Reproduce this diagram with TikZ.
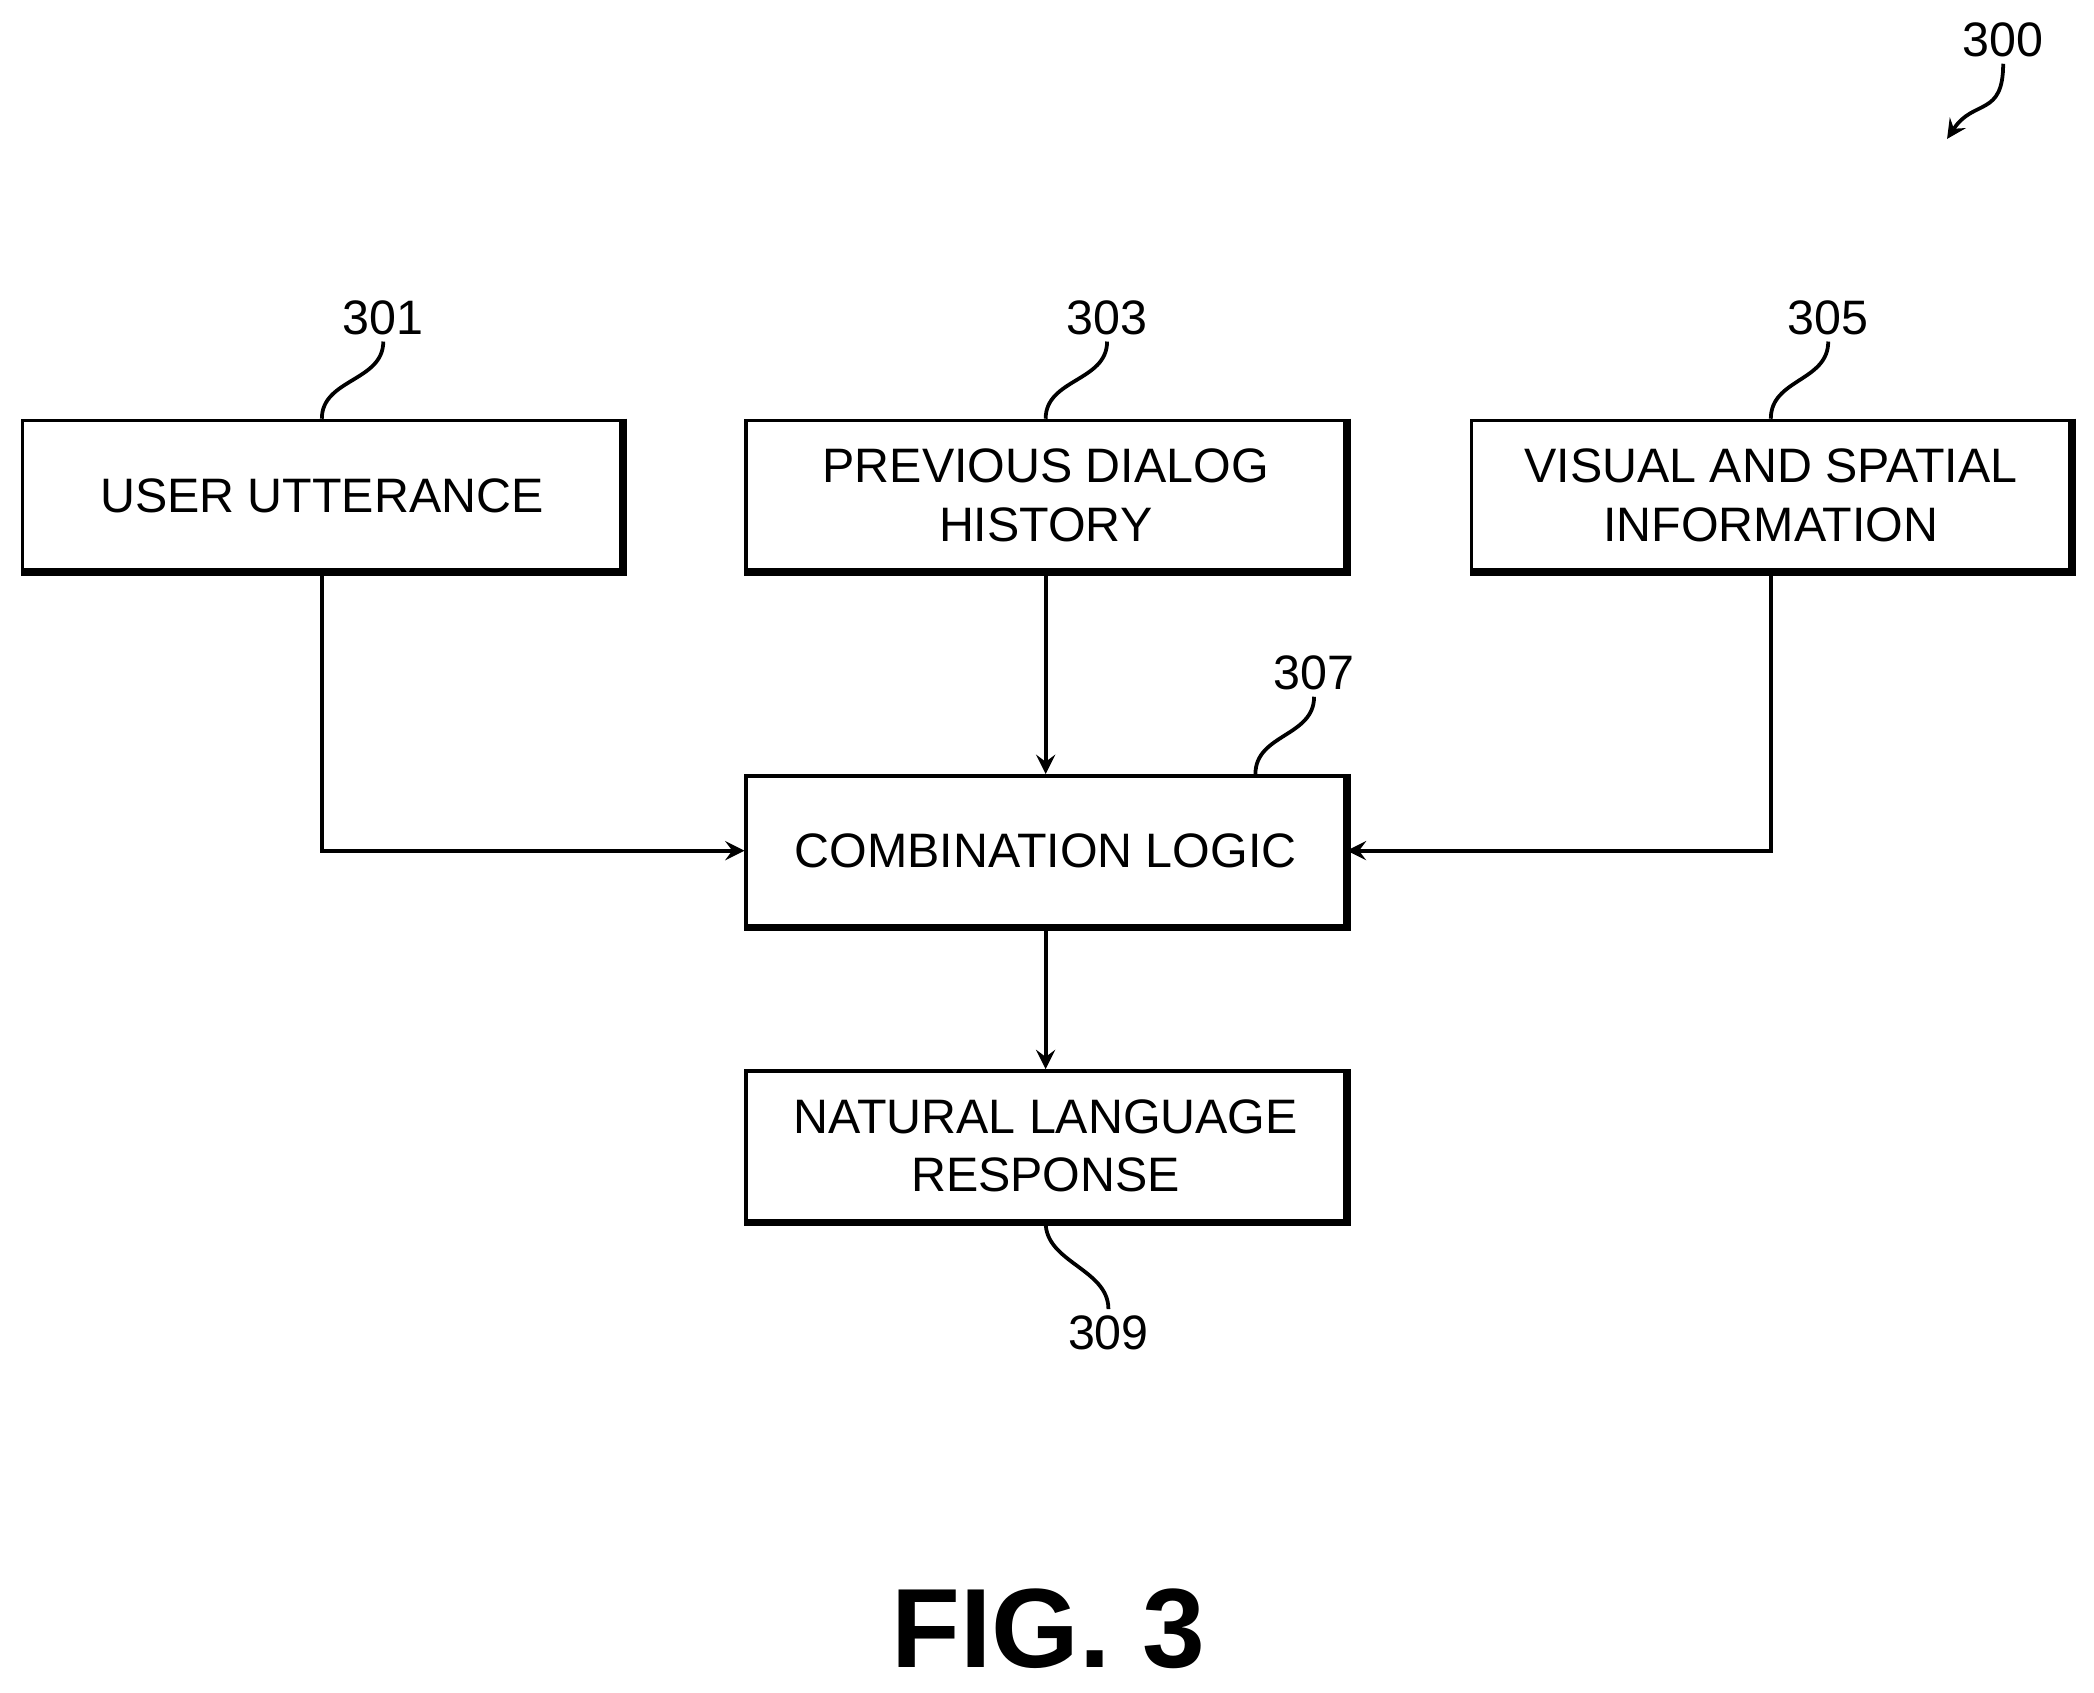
\documentclass[tikz,border=0pt]{standalone}
\usepackage{fontspec}
\setmainfont{Liberation Sans}
\usetikzlibrary{positioning}
\begin{document}
\begin{tikzpicture}[x=0.01cm,y=-0.01cm,>=stealth,line width=0.8pt,
    font=\fontsize{10.3}{12.5}\selectfont]
    \tikzstyle{box}=[draw,minimum width=4.48cm,minimum height=1.12cm,align=center,inner sep=2pt]
    \tikzstyle{ref}=[inner sep=1pt]
    \useasboundingbox (0,0) rectangle (1568,1267);
    % Draw the blocks
    \node[box] (U) at (241,371) {USER UTTERANCE};
    \node[box] (D) at (783,371) {PREVIOUS DIALOG\\HISTORY};
    \node[box] (V) at (1326,371) {VISUAL AND SPATIAL\\INFORMATION};
    \node[box] (C) at (783,637) {COMBINATION LOGIC};
    \node[box] (R) at (783,858) {NATURAL LANGUAGE\\RESPONSE};
    % thick lower and right edges
    \foreach \n in {U,D,V,C,R}
        \draw[line width=1.6pt] (\n.north east) -- (\n.south east) -- (\n.south west);
    % Connections
    \draw[->] (U.south) |- (C.west);
    \draw[->] (V.south) |- (C.east);
    \draw[->] (D.south) -- (C.north);
    \draw[->] (C.south) -- (R.north);
    % Reference numerals
    \node[ref] (L301) at (287,238) {301};
    \node[ref] (L303) at (829,238) {303};
    \node[ref] (L305) at (1369,238) {305};
    \node[ref] (L307) at (984,504) {307};
    \node[ref] (L309) at (830,998) {309};
    \node[ref] (L300) at (1500,30) {300};
    \coordinate (A300) at (1458,104);
    \draw (U.north) .. controls +(0,-30) and +(0,30) .. (L301.south);
    \draw (D.north) .. controls +(0,-30) and +(0,30) .. (L303.south);
    \draw (V.north) .. controls +(0,-30) and +(0,30) .. (L305.south);
    \draw ([xshift=1.57cm]C.north) .. controls +(0,-30) and +(0,30) .. (L307.south);
    \draw (R.south) .. controls +(0,30) and +(0,-30) .. (L309.north);
    \draw[->] (L300.south) .. controls +(0,40) and +(20,-30) .. (A300);
    % Figure title
    \node[font=\fontsize{24}{28}\selectfont\bfseries] (T) at (785,1220) {FIG. 3};
\end{tikzpicture}
\end{document}
